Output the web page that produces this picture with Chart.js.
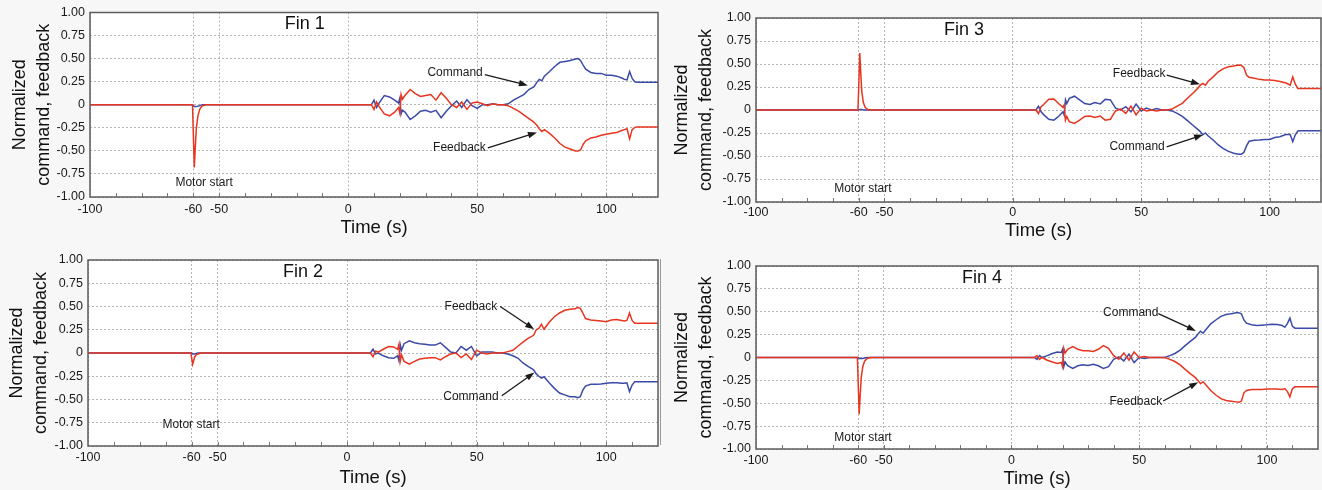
<!DOCTYPE html>
<html><head><meta charset="utf-8">
<script src="https://cdn.jsdelivr.net/npm/chart.js@4.4.1/dist/chart.umd.min.js"></script>
<style>
html,body{margin:0;padding:0;background:#f7f7f7;width:1322px;height:490px;overflow:hidden;}
canvas{position:absolute;}
#sep{position:absolute;left:660px;top:259px;width:1px;height:186px;background:#9a9a9a;}
</style></head><body>
<canvas id="fin1" width="660" height="245" style="left:0px;top:0px"></canvas>
<canvas id="fin3" width="662" height="245" style="left:660px;top:0px"></canvas>
<canvas id="fin2" width="660" height="245" style="left:0px;top:245px"></canvas>
<canvas id="fin4" width="660" height="245" style="left:660px;top:245px"></canvas>
<div id="sep"></div>
<script>
// ---- data ----
const time = [
 -100, -60.3, -60, -59.6, -59.2, -58.8, -58.2, -57.5, -56.5, -55,
 8, 9, 10, 11, 12, 14, 16, 18, 19.5, 20, 20.5, 21,
 22, 24, 26, 28, 30, 32, 34, 36, 38, 40,
 42, 44, 46, 48, 50, 52, 54, 56, 58, 60,
 62, 64, 66, 68, 70, 72, 73, 74, 75, 76,
 78, 80, 82, 84, 86, 88, 89, 90, 91, 92,
 94, 96, 98, 100, 102, 104, 106, 107, 108, 109,
 110, 111, 112, 120];
const xTickValues = [-100, -60, -50, 0, 50, 100];
const yTickValues = [-1, -0.75, -0.5, -0.25, 0, 0.25, 0.5, 0.75, 1];

const fin1Command = [
 0, 0, -0.01, -0.02, -0.02, -0.02, -0.015, -0.01, 0, 0,
 0, 0, 0.05, -0.03, 0.02, 0.1, 0.085, 0.05, 0.02, 0.07, -0.1, -0.06,
 -0.08, -0.16, -0.12, -0.07, -0.06, -0.08, -0.06, -0.14, -0.07, -0.01,
 0.04, -0.03, 0.055, -0.01, -0.04, 0, 0, 0.01, 0, 0,
 0.01, 0.05, 0.08, 0.11, 0.165, 0.195, 0.24, 0.275, 0.26, 0.31,
 0.36, 0.415, 0.46, 0.47, 0.48, 0.495, 0.5, 0.48, 0.43, 0.385,
 0.35, 0.34, 0.34, 0.32, 0.32, 0.31, 0.29, 0.275, 0.27, 0.36,
 0.285, 0.25, 0.245, 0.245];
const fin1Feedback = [
 0, 0, -0.3, -0.68, -0.45, -0.25, -0.12, -0.05, -0.01, 0,
 0, 0, -0.05, 0.03, -0.02, -0.1, -0.12, -0.08, -0.03, -0.09, 0.11, 0.06,
 0.1, 0.165, 0.12, 0.09, 0.1, 0.11, 0.05, 0.13, 0.07, 0,
 -0.03, 0.03, -0.05, 0.02, 0.03, 0.01, -0.01, 0.01, 0, 0,
 -0.01, -0.04, -0.07, -0.11, -0.15, -0.19, -0.22, -0.26, -0.29, -0.27,
 -0.31, -0.36, -0.42, -0.46, -0.48, -0.5, -0.5, -0.49, -0.43, -0.39,
 -0.36, -0.35, -0.33, -0.32, -0.31, -0.3, -0.28, -0.27, -0.26, -0.37,
 -0.27, -0.245, -0.24, -0.24];

const fin2Command = [
 0, 0, 0, -0.01, -0.01, -0.01, -0.005, 0, 0, 0,
 0, 0, 0.04, -0.01, 0, -0.03, -0.05, -0.057, -0.03, -0.08, 0.09, 0.03,
 0.1, 0.13, 0.11, 0.1, 0.095, 0.085, 0.085, 0.11, 0.06, 0.01,
 0, 0.07, 0.03, 0.07, -0.03, 0.01, 0.01, 0.01, 0, 0,
 -0.01, -0.03, -0.057, -0.11, -0.147, -0.18, -0.225, -0.25, -0.27, -0.255,
 -0.32, -0.38, -0.43, -0.45, -0.47, -0.47, -0.48, -0.47, -0.4, -0.355,
 -0.337, -0.337, -0.333, -0.326, -0.32, -0.32, -0.326, -0.326, -0.32, -0.415,
 -0.345, -0.31, -0.31, -0.31];
const fin2Feedback = [
 0, 0, -0.05, -0.12, -0.08, -0.04, -0.02, -0.01, 0, 0,
 0, 0, -0.04, 0.02, 0.01, 0.04, 0.07, 0.065, 0.04, 0.09, -0.09, -0.02,
 -0.09, -0.12, -0.09, -0.065, -0.057, -0.05, -0.05, -0.075, -0.04, -0.01,
 0, -0.05, -0.01, -0.07, 0.03, 0, -0.01, 0, 0, 0,
 0.015, 0.03, 0.075, 0.12, 0.16, 0.19, 0.25, 0.265, 0.31, 0.255,
 0.33, 0.39, 0.43, 0.46, 0.47, 0.475, 0.49, 0.48, 0.43, 0.37,
 0.355, 0.35, 0.345, 0.337, 0.355, 0.36, 0.35, 0.345, 0.35, 0.43,
 0.35, 0.32, 0.32, 0.32];

const fin3Command = [
 0, 0, 0, 0.005, 0.005, 0.005, 0, 0, 0, 0,
 0, 0, 0.04, -0.02, -0.05, -0.1, -0.11, -0.065, -0.02, -0.055, 0.11, 0.07,
 0.127, 0.15, 0.11, 0.07, 0.06, 0.08, 0.065, 0.116, 0.11, 0.02,
 0, 0.036, -0.02, 0.065, -0.01, 0.02, 0, 0.015, 0, 0,
 -0.01, -0.036, -0.07, -0.116, -0.163, -0.21, -0.235, -0.27, -0.25, -0.28,
 -0.326, -0.38, -0.42, -0.45, -0.47, -0.48, -0.48, -0.46, -0.39, -0.34,
 -0.33, -0.326, -0.32, -0.32, -0.3, -0.29, -0.27, -0.265, -0.265, -0.344,
 -0.27, -0.228, -0.225, -0.225];
const fin3Feedback = [
 0, 0, 0.25, 0.62, 0.4, 0.2, 0.08, 0.03, 0.005, 0,
 0, 0, -0.04, 0.035, 0.06, 0.116, 0.12, 0.065, 0.03, 0.055, -0.11, -0.07,
 -0.127, -0.145, -0.11, -0.07, -0.065, -0.08, -0.065, -0.11, -0.1, -0.01,
 0.01, -0.036, 0.043, -0.054, 0.02, -0.01, 0, -0.01, 0, 0,
 0.01, 0.043, 0.072, 0.127, 0.18, 0.235, 0.27, 0.29, 0.27, 0.31,
 0.36, 0.415, 0.45, 0.47, 0.478, 0.49, 0.485, 0.46, 0.38, 0.355,
 0.344, 0.333, 0.326, 0.326, 0.32, 0.31, 0.297, 0.285, 0.27, 0.36,
 0.28, 0.235, 0.235, 0.235];

const fin4Command = [
 0, 0, 0, -0.01, -0.01, -0.01, -0.01, -0.005, 0, 0,
 0, 0, -0.02, 0.02, 0, 0.02, 0.044, 0.06, 0.055, 0.09, -0.1, -0.05,
 -0.09, -0.12, -0.09, -0.08, -0.088, -0.073, -0.09, -0.12, -0.1, -0.02,
 0.007, -0.037, 0.037, -0.055, 0, -0.01, 0, 0, 0, 0,
 0.02, 0.044, 0.08, 0.13, 0.176, 0.22, 0.257, 0.287, 0.265, 0.3,
 0.368, 0.41, 0.45, 0.47, 0.478, 0.49, 0.49, 0.478, 0.41, 0.375,
 0.357, 0.35, 0.353, 0.357, 0.364, 0.36, 0.35, 0.33, 0.37, 0.43,
 0.34, 0.32, 0.32, 0.32];
const fin4Feedback = [
 0, 0, -0.28, -0.62, -0.4, -0.22, -0.1, -0.04, -0.01, 0,
 0, 0, 0.02, -0.02, 0, -0.03, -0.05, -0.066, -0.055, -0.1, 0.1, 0.05,
 0.09, 0.118, 0.09, 0.074, 0.074, 0.066, 0.09, 0.13, 0.1, 0.02,
 -0.02, 0.05, -0.03, 0.06, 0, 0.01, 0, 0, 0, 0,
 -0.02, -0.044, -0.08, -0.13, -0.176, -0.22, -0.25, -0.287, -0.265, -0.294,
 -0.36, -0.41, -0.45, -0.47, -0.478, -0.485, -0.49, -0.478, -0.386, -0.36,
 -0.35, -0.35, -0.35, -0.345, -0.343, -0.345, -0.35, -0.34, -0.37, -0.43,
 -0.34, -0.32, -0.32, -0.32];

// ---- styling / layout ----
const FONT = "'Liberation Sans', Arial, Helvetica, sans-serif";
const BLUE = '#3b4aa6';
const RED = '#e8351f';

const fins = [
 { id:'fin1', title:'Fin 1', cmd:fin1Command, fb:fin1Feedback,
   pad:{left:0,right:2,top:12,bottom:0}, yw:90, xh:48, yTitlePad:8, xTitlePad:6, xTickPad:5.5,
   notes:{ title:[-16.8,0.88], motor:[-55.8,-0.84],
     upper:{text:'Command', at:[41.4,0.35], from:[52.9,0.326], to:[69.6,0.21]},
     lower:{text:'Feedback', at:[43.1,-0.467], from:[54.1,-0.467], to:[73.1,-0.30]} } },
 { id:'fin3', title:'Fin 3', cmd:fin3Command, fb:fin3Feedback,
   pad:{left:0,right:1,top:18,bottom:0}, yw:96, xh:43, yTitlePad:10.5, xTitlePad:3, xTickPad:3.5,
   notes:{ title:[-19,0.87], motor:[-58.4,-0.85],
     upper:{text:'Feedback', at:[49.2,0.39], from:[59.9,0.38], to:[72.9,0.28]},
     lower:{text:'Command', at:[48.4,-0.4], from:[59.9,-0.4], to:[74.1,-0.27]} } },
 { id:'fin2', title:'Fin 2', cmd:fin2Command, fb:fin2Feedback,
   pad:{left:0,right:2,top:15,bottom:0}, yw:88, xh:44, yTitlePad:4.7, xTitlePad:1, xTickPad:4.5,
   notes:{ title:[-17,0.87], motor:[-60.2,-0.77],
     upper:{text:'Feedback', at:[47.8,0.5], from:[59.1,0.5], to:[72.2,0.255]},
     lower:{text:'Command', at:[47.8,-0.47], from:[59.7,-0.46], to:[72.3,-0.21]} } },
 { id:'fin4', title:'Fin 4', cmd:fin4Command, fb:fin4Feedback,
   pad:{left:0,right:2,top:21,bottom:0}, yw:96, xh:41, yTitlePad:10.5, xTitlePad:0, xTickPad:4.2,
   notes:{ title:[-11.5,0.87], motor:[-58.1,-0.88],
     upper:{text:'Command', at:[46.7,0.49], from:[57.5,0.48], to:[72.2,0.29]},
     lower:{text:'Feedback', at:[48.7,-0.48], from:[59.4,-0.475], to:[73.1,-0.27]} } }
];

function drawArrow(ctx, x1, y1, x2, y2) {
  const a = Math.atan2(y2 - y1, x2 - x1), L = 9, W = 3.2;
  ctx.beginPath();
  ctx.moveTo(x1, y1);
  ctx.lineTo(x2 - L * 0.8 * Math.cos(a), y2 - L * 0.8 * Math.sin(a));
  ctx.stroke();
  ctx.beginPath();
  ctx.moveTo(x2, y2);
  ctx.lineTo(x2 - L * Math.cos(a) + W * Math.sin(a), y2 - L * Math.sin(a) - W * Math.cos(a));
  ctx.lineTo(x2 - L * Math.cos(a) - W * Math.sin(a), y2 - L * Math.sin(a) + W * Math.cos(a));
  ctx.closePath();
  ctx.fill();
}

const decor = {
  id: 'decor',
  beforeDraw(chart) {
    const {ctx, chartArea: a} = chart;
    ctx.save();
    ctx.fillStyle = '#ffffff';
    ctx.fillRect(a.left, a.top, a.right - a.left, a.bottom - a.top);
    ctx.restore();
  },
  afterDatasetsDraw(chart, args, opts) {
    const {ctx, chartArea: a, scales: {x, y}} = chart;
    const n = opts.notes;
    ctx.save();
    // minor ticks along bottom axis
    ctx.strokeStyle = '#777';
    ctx.lineWidth = 1;
    ctx.beginPath();
    for (let v = -90; v <= 110; v += 10) {
      const px = Math.round(x.getPixelForValue(v)) + 0.5;
      ctx.moveTo(px, a.bottom);
      ctx.lineTo(px, a.bottom - 4);
    }
    ctx.stroke();
    // frame
    ctx.strokeStyle = '#5c5c5c';
    ctx.lineWidth = 1.5;
    ctx.strokeRect(a.left, a.top, a.right - a.left, a.bottom - a.top);
    // texts
    ctx.fillStyle = '#111';
    ctx.textAlign = 'center';
    ctx.textBaseline = 'middle';
    ctx.font = '18px ' + FONT;
    ctx.fillText(opts.title, x.getPixelForValue(n.title[0]), y.getPixelForValue(n.title[1]));
    ctx.font = '12px ' + FONT;
    ctx.fillStyle = '#1a1a1a';
    ctx.fillText('Motor start', x.getPixelForValue(n.motor[0]), y.getPixelForValue(n.motor[1]));
    ctx.strokeStyle = '#1a1a1a';
    ctx.lineWidth = 1.3;
    for (const k of ['upper', 'lower']) {
      const o = n[k];
      ctx.fillText(o.text, x.getPixelForValue(o.at[0]), y.getPixelForValue(o.at[1]));
      drawArrow(ctx, x.getPixelForValue(o.from[0]), y.getPixelForValue(o.from[1]),
                x.getPixelForValue(o.to[0]), y.getPixelForValue(o.to[1]));
    }
    ctx.restore();
  }
};

for (const f of fins) {
  const pts = arr => time.map((t, i) => ({x: t, y: arr[i]}));
  new Chart(document.getElementById(f.id), {
    type: 'line',
    data: {
      datasets: [
        {label: 'Feedback', data: pts(f.fb), borderColor: RED, borderWidth: 1.5, pointRadius: 0, fill: false, tension: 0},
        {label: 'Command', data: pts(f.cmd), borderColor: BLUE, borderWidth: 1.5, pointRadius: 0, fill: false, tension: 0}
      ]
    },
    options: {
      responsive: false,
      animation: false,
      events: [],
      layout: {padding: f.pad},
      plugins: {legend: {display: false}, tooltip: {enabled: false}, decor: {notes: f.notes, title: f.title}},
      scales: {
        x: {
          type: 'linear', min: -100, max: 120,
          afterBuildTicks: s => { s.ticks = xTickValues.map(v => ({value: v})); },
          afterFit: s => { s.height = f.xh; },
          grid: {color: '#b4b4b4', lineWidth: 1, drawTicks: false},
          border: {display: false, dash: [2, 2]},
          ticks: {autoSkip: false, maxRotation: 0, padding: f.xTickPad, color: '#1a1a1a',
                  font: {family: FONT, size: 12.5}, callback: v => String(v)},
          title: {display: true, text: 'Time (s)', color: '#111',
                  font: {family: FONT, size: 18.5, lineHeight: 1.2}, padding: {top: 0, bottom: f.xTitlePad}}
        },
        y: {
          type: 'linear', min: -1, max: 1,
          afterBuildTicks: s => { s.ticks = yTickValues.map(v => ({value: v})); },
          afterFit: s => { s.width = f.yw; },
          grid: {color: '#b4b4b4', lineWidth: 1, drawTicks: false},
          border: {display: false, dash: [2, 2]},
          ticks: {padding: 5, color: '#1a1a1a', font: {family: FONT, size: 12.5},
                  callback: v => (v === 0 ? '0' : v.toFixed(2))},
          title: {display: true, text: ['Normalized', 'command, feedback'], color: '#111',
                  font: {family: FONT, size: 18, lineHeight: 1.3333}, padding: {top: f.yTitlePad, bottom: 0}}
        }
      }
    },
    plugins: [decor]
  });
}
</script>
</body></html>
